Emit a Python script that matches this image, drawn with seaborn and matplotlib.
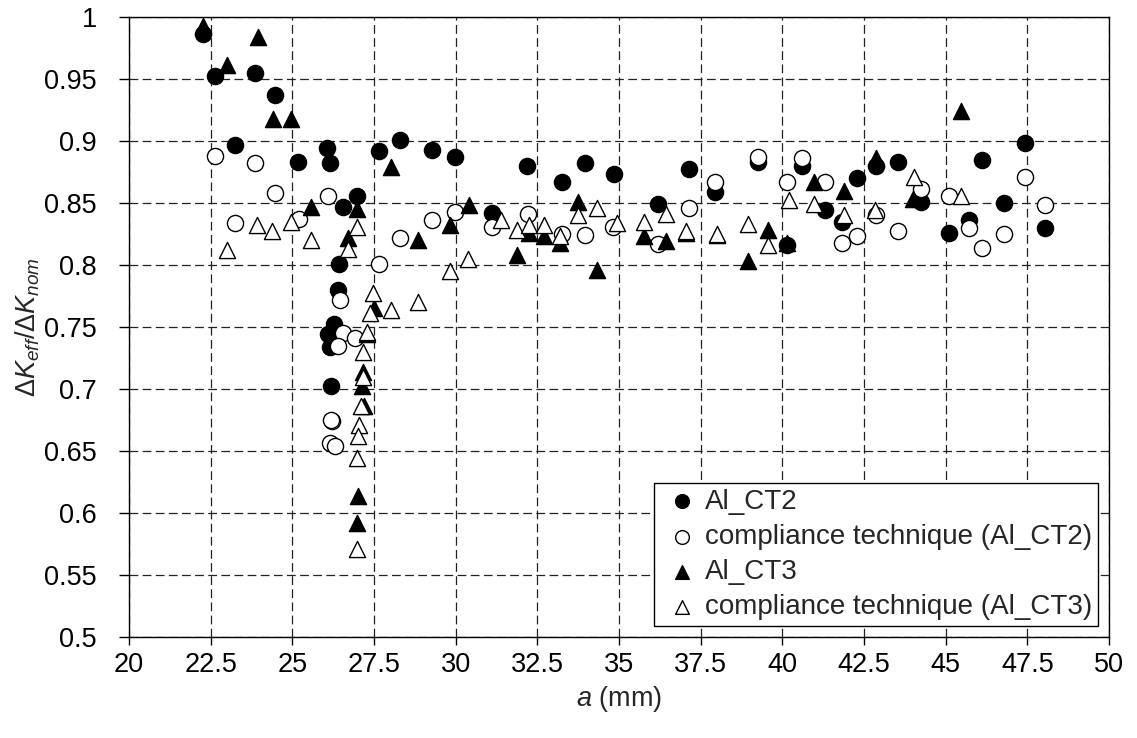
import matplotlib
matplotlib.use('Agg')
import pandas as pd
import matplotlib.pyplot as plt
import seaborn as sns
from matplotlib.ticker import MultipleLocator, FuncFormatter

# Al_CT2 (closure measurement)
al_ct2_a = [22.27, 22.63, 23.24, 23.86, 24.47, 25.18, 26.07, 26.15, 26.56, 26.97,
            26.44, 26.39, 26.26, 26.10, 26.15, 26.17, 27.66, 28.29, 29.26, 29.98,
            31.12, 32.19, 33.24, 33.96, 34.84, 36.20, 37.14, 37.94, 39.26, 40.13,
            40.59, 41.32, 41.82, 42.27, 42.88, 43.55, 44.24, 45.10, 45.72, 46.10,
            46.80, 47.43, 48.04]
al_ct2_k = [0.986, 0.952, 0.897, 0.955, 0.937, 0.883, 0.894, 0.882, 0.847, 0.856,
            0.801, 0.780, 0.752, 0.744, 0.734, 0.702, 0.892, 0.901, 0.893, 0.887,
            0.842, 0.880, 0.867, 0.882, 0.873, 0.849, 0.877, 0.859, 0.883, 0.816,
            0.880, 0.844, 0.835, 0.870, 0.880, 0.883, 0.851, 0.826, 0.836, 0.885,
            0.850, 0.898, 0.830]

# compliance technique (Al_CT2)
comp_ct2_a = [22.63, 23.86, 24.47, 26.10, 23.24, 25.20, 27.65, 26.46, 26.56, 26.41,
              26.92, 26.22, 26.17, 26.15, 26.31, 28.29, 29.26, 29.98, 31.12, 32.20,
              33.24, 33.96, 34.82, 36.20, 37.14, 37.94, 39.26, 40.13, 40.59, 41.32,
              41.82, 42.27, 42.88, 43.55, 44.24, 45.10, 45.72, 46.10, 46.80, 47.43,
              48.04]
comp_ct2_k = [0.888, 0.882, 0.858, 0.856, 0.834, 0.837, 0.801, 0.772, 0.745, 0.735,
              0.741, 0.674, 0.675, 0.656, 0.654, 0.822, 0.836, 0.843, 0.831, 0.841,
              0.825, 0.824, 0.831, 0.817, 0.846, 0.867, 0.887, 0.867, 0.886, 0.867,
              0.818, 0.823, 0.840, 0.827, 0.861, 0.856, 0.830, 0.814, 0.825, 0.871,
              0.848]

# Al_CT3 (closure measurement)
al_ct3_a = [22.27, 22.99, 23.96, 24.42, 24.95, 25.57, 26.97, 28.02, 26.69, 28.86,
            29.84, 27.51, 27.29, 27.17, 27.12, 27.20, 27.02, 26.97, 30.42, 31.89,
            32.23, 32.71, 33.19, 33.75, 34.34, 35.77, 36.44, 37.05, 38.00, 38.96,
            39.57, 40.13, 40.97, 41.89, 42.88, 44.01, 45.47]
al_ct3_k = [0.993, 0.961, 0.984, 0.918, 0.918, 0.847, 0.845, 0.879, 0.822, 0.820,
            0.832, 0.765, 0.744, 0.714, 0.702, 0.686, 0.614, 0.592, 0.848, 0.808,
            0.826, 0.823, 0.818, 0.851, 0.796, 0.823, 0.819, 0.826, 0.824, 0.803,
            0.828, 0.818, 0.867, 0.860, 0.886, 0.853, 0.924]

# compliance technique (Al_CT3)
comp_ct3_a = [22.99, 23.93, 24.37, 24.95, 25.57, 26.69, 26.97, 27.48, 27.38, 28.02,
              28.86, 27.29, 27.17, 27.17, 27.10, 27.05, 27.02, 26.97, 26.97, 29.83,
              30.39, 31.39, 31.89, 32.23, 32.71, 33.19, 33.75, 34.34, 34.95, 35.77,
              36.44, 37.05, 38.01, 38.96, 39.57, 40.20, 40.97, 41.89, 42.83, 44.04,
              45.46]
comp_ct3_k = [0.812, 0.832, 0.827, 0.835, 0.820, 0.813, 0.831, 0.777, 0.761, 0.764,
              0.770, 0.746, 0.730, 0.710, 0.686, 0.671, 0.662, 0.644, 0.571, 0.795,
              0.805, 0.836, 0.828, 0.832, 0.832, 0.823, 0.840, 0.846, 0.834, 0.835,
              0.841, 0.827, 0.825, 0.833, 0.816, 0.852, 0.849, 0.840, 0.844, 0.871,
              0.856]

sns.set_style('white')
plt.rcParams['font.family'] = ['Liberation Sans', 'DejaVu Sans']
plt.rcParams['mathtext.fontset'] = 'custom'
plt.rcParams['mathtext.rm'] = 'Liberation Sans'
plt.rcParams['mathtext.it'] = 'Liberation Sans:italic'

fig, ax = plt.subplots(figsize=(11.37, 7.38), dpi=100)
fig.subplots_adjust(left=0.1135, right=0.9754, top=0.977, bottom=0.137)

series = [
    ('Al_CT2', al_ct2_a, al_ct2_k, 'o', 'black'),
    ('compliance technique (Al_CT2)', comp_ct2_a, comp_ct2_k, 'o', 'white'),
    ('Al_CT3', al_ct3_a, al_ct3_k, '^', 'black'),
    ('compliance technique (Al_CT3)', comp_ct3_a, comp_ct3_k, '^', 'white'),
]
for label, xs, ys, mk, fc in series:
    df = pd.DataFrame({'a': xs, 'k': ys})
    sns.scatterplot(data=df, x='a', y='k', marker=mk, s=135, color=fc,
                    edgecolor='black', linewidth=1.0, label=label, ax=ax, zorder=3)

ax.set_xlim(20, 50)
ax.set_ylim(0.5, 1.0)
ax.xaxis.set_major_locator(MultipleLocator(2.5))
ax.yaxis.set_major_locator(MultipleLocator(0.05))
fmt = FuncFormatter(lambda v, p: '{:g}'.format(round(v, 3)))
ax.xaxis.set_major_formatter(fmt)
ax.yaxis.set_major_formatter(fmt)

ax.grid(True, color='#222222', linestyle=(0, (7, 3.5)), linewidth=0.9)
ax.set_axisbelow(True)
for sp in ax.spines.values():
    sp.set_color('black')
    sp.set_linewidth(1.0)
ax.tick_params(bottom=True, left=True, direction='out', width=1,
               colors='black', labelsize=19.5)
ax.tick_params(axis='x', length=6, pad=5)
ax.tick_params(axis='y', length=7, pad=16)

ax.set_xlabel(r'$a$ (mm)', fontsize=19.5, labelpad=4)
ax.set_ylabel(r'$\mathit{ΔK_{eff}/ΔK_{nom}}$', fontsize=19.5, labelpad=2)

leg = ax.legend(loc='lower right', frameon=True, fancybox=False, edgecolor='black',
                framealpha=1, fontsize=20, handletextpad=0.05, handlelength=1.6,
                borderpad=0.2, labelspacing=0.33, borderaxespad=0.4, markerscale=0.85)
leg.get_frame().set_linewidth(1.0)

plt.savefig('out.png', dpi=100)
